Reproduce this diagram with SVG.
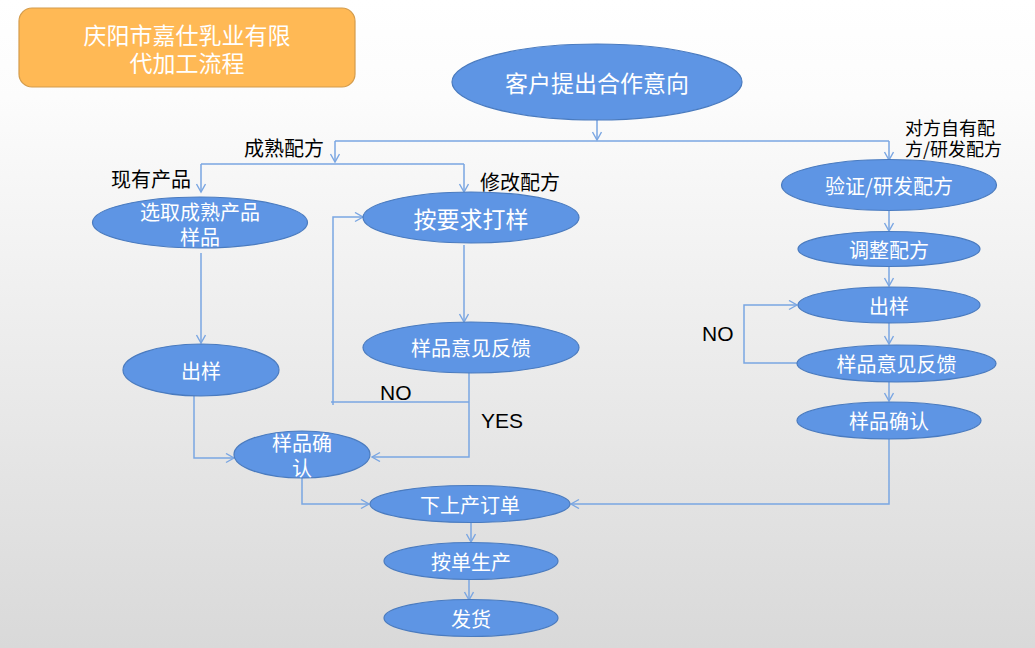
<svg xmlns="http://www.w3.org/2000/svg" width="1035" height="648" viewBox="0 0 1035 648">
<defs>
<linearGradient id="bg" x1="0" y1="0" x2="0" y2="1">
<stop offset="0" stop-color="#ffffff"/>
<stop offset="0.15" stop-color="#fcfcfc"/>
<stop offset="1" stop-color="#d9d9d9"/>
</linearGradient>
<marker id="arr" markerUnits="userSpaceOnUse" markerWidth="12" markerHeight="12" refX="9" refY="5" orient="auto">
<path d="M1,0.5 L9,5 L1,9.5" fill="none" stroke="#7aa6e2" stroke-width="1.4"/>
</marker>
<style>
.n{fill:#5e95e4;stroke:#4a7bbf;stroke-width:1.2}
.t{fill:#ffffff;font-family:"Noto Sans CJK SC","Noto Sans",sans-serif;font-size:20px;text-anchor:middle;dominant-baseline:central}
.tb{font-size:23px}
.l{fill:#000000;font-family:"Noto Sans CJK SC","Noto Sans",sans-serif;font-size:20px;dominant-baseline:central}
.y{fill:#000000;font-family:"Liberation Sans",Arial,sans-serif;font-size:21px;dominant-baseline:central}
.c{fill:none;stroke:#7aa6e2;stroke-width:1.5}
</style>
</defs>
<rect x="0" y="0" width="1035" height="648" fill="url(#bg)"/>

<g id="title">
<rect x="19" y="8" width="336" height="79" rx="13" fill="#ffb955" stroke="#d49c4c" stroke-width="1.2"/>
<text class="t tb" x="187" y="34">庆阳市嘉仕乳业有限</text>
<text class="t tb" x="187" y="62">代加工流程</text>
</g>

<g id="connectors">
<path class="c" d="M597,120 V140" marker-end="url(#arr)"/>
<path class="c" d="M335,141 H889"/>
<path class="c" d="M335,141 V162" marker-end="url(#arr)"/>
<path class="c" d="M889,141 V160" marker-end="url(#arr)"/>
<path class="c" d="M201,164 H464"/>
<path class="c" d="M201,164 V192" marker-end="url(#arr)"/>
<path class="c" d="M464,164 V192" marker-end="url(#arr)"/>
<path class="c" d="M201,253 V343" marker-end="url(#arr)"/>
<path class="c" d="M194,396 V458 H234" marker-end="url(#arr)"/>
<path class="c" d="M464,245 V322" marker-end="url(#arr)"/>
<path class="c" d="M469,402 H331"/>
<path class="c" d="M333,405 V217 H363" marker-end="url(#arr)"/>
<path class="c" d="M469,373 V457 H372" marker-end="url(#arr)"/>
<path class="c" d="M302,478 V504 H369" marker-end="url(#arr)"/>
<path class="c" d="M889,439 V504 H571" marker-end="url(#arr)"/>
<path class="c" d="M471,523 V542" marker-end="url(#arr)"/>
<path class="c" d="M469,579 V600" marker-end="url(#arr)"/>
<path class="c" d="M889,211 V231" marker-end="url(#arr)"/>
<path class="c" d="M889,267 V286" marker-end="url(#arr)"/>
<path class="c" d="M889,323 V344" marker-end="url(#arr)"/>
<path class="c" d="M889,382 V401" marker-end="url(#arr)"/>
<path class="c" d="M797,363 H744 V305 H797" marker-end="url(#arr)"/>
</g>

<g id="labels">
<text class="l" x="244" y="147">成熟配方</text>
<text class="l" x="111" y="178">现有产品</text>
<text class="l" x="480" y="181">修改配方</text>
<text class="l" x="905" y="127" style="font-size:18px">对方自有配</text>
<text class="l" x="905" y="148" style="font-size:18px">方/研发配方</text>
<text class="y" x="380" y="392">NO</text>
<text class="y" x="481" y="420">YES</text>
<text class="y" x="702" y="333">NO</text>
</g>

<g id="n_customer">
<ellipse class="n" cx="597" cy="82" rx="145" ry="38"/>
<text class="t tb" x="597" y="82">客户提出合作意向</text>
</g>
<g id="n_select">
<ellipse class="n" cx="200" cy="222.5" rx="107.5" ry="25.5"/>
<text class="t" x="200" y="211">选取成熟产品</text>
<text class="t" x="200" y="236">样品</text>
</g>
<g id="n_sample_left">
<ellipse class="n" cx="201" cy="370" rx="78" ry="26"/>
<text class="t" x="201" y="370">出样</text>
</g>
<g id="n_confirm_left">
<ellipse class="n" cx="302" cy="454.5" rx="68" ry="23.5"/>
<text class="t" x="302" y="442">样品确</text>
<text class="t" x="302" y="467">认</text>
</g>
<g id="n_make">
<ellipse class="n" cx="471" cy="217.5" rx="108" ry="25.5"/>
<text class="t tb" x="471" y="217.5">按要求打样</text>
</g>
<g id="n_feedback_mid">
<ellipse class="n" cx="471" cy="347.5" rx="108" ry="25.5"/>
<text class="t" x="471" y="347.5">样品意见反馈</text>
</g>
<g id="n_order">
<ellipse class="n" cx="470" cy="504" rx="100" ry="18.5"/>
<text class="t" x="470" y="504">下上产订单</text>
</g>
<g id="n_produce">
<ellipse class="n" cx="471" cy="561" rx="87" ry="18.5"/>
<text class="t" x="471" y="561">按单生产</text>
</g>
<g id="n_ship">
<ellipse class="n" cx="471" cy="618" rx="87" ry="18.5"/>
<text class="t" x="471" y="618">发货</text>
</g>
<g id="n_verify">
<ellipse class="n" cx="889" cy="185" rx="107.5" ry="25.5"/>
<text class="t" x="889" y="185">验证/研发配方</text>
</g>
<g id="n_adjust">
<ellipse class="n" cx="889" cy="249" rx="91" ry="17.5"/>
<text class="t" x="889" y="249">调整配方</text>
</g>
<g id="n_sample_right">
<ellipse class="n" cx="889" cy="305" rx="91" ry="18"/>
<text class="t" x="889" y="305">出样</text>
</g>
<g id="n_feedback_right">
<ellipse class="n" cx="896.5" cy="363.5" rx="99.5" ry="18.5"/>
<text class="t" x="896.5" y="363.5">样品意见反馈</text>
</g>
<g id="n_confirm_right">
<ellipse class="n" cx="889" cy="420.5" rx="92" ry="18.5"/>
<text class="t" x="889" y="420.5">样品确认</text>
</g>
</svg>
